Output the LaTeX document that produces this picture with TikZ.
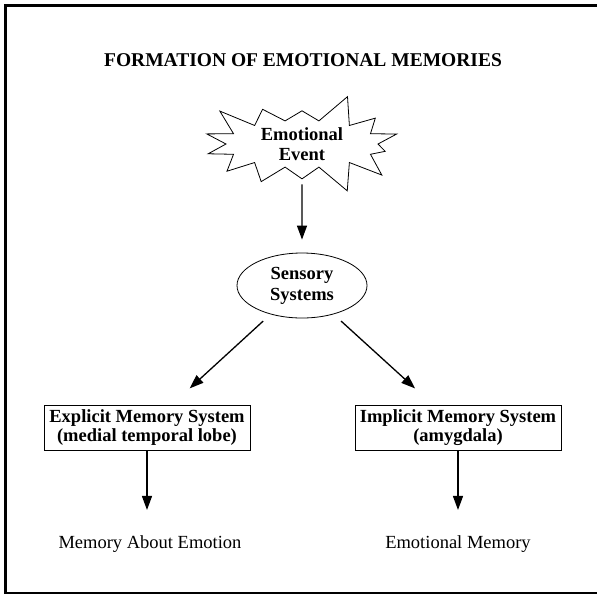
\documentclass[tikz,border=0pt]{standalone}
\usepackage{fontspec}
\setmainfont{Liberation Serif}
\usetikzlibrary{shapes,arrows.meta,positioning}
\tikzset{%
	burstnode/.style={starburst, draw, thick, fill=white, starburst points=14, starburst point height=30pt, random starburst=3, minimum width=212pt, minimum height=88pt, inner sep=0pt, align=center, font=\fontsize{18.5}{20.5}\selectfont\bfseries},
	ovalnode/.style={ellipse, draw, thick, minimum width=130pt, minimum height=65pt, inner sep=0pt, align=center, font=\fontsize{18.5}{21}\selectfont\bfseries},
	boxnode/.style={rectangle, draw, thick, minimum width=206pt, minimum height=45pt, inner sep=0pt, align=center, font=\fontsize{18.5}{18.5}\selectfont\bfseries},
	plainnode/.style={inner sep=3pt, font=\fontsize{18.5}{21}\selectfont},
	pt/.style={line width=1.3pt, -{Triangle[length=14pt,width=10pt]}}
}

\begin{document}
\begin{tikzpicture}[x=1pt, y=-1pt]
			\useasboundingbox (0,0) rectangle (597,595);
			% frame
			\draw[line width=1.2pt] (600,593) -- (5.5,593);
			\draw[line width=2.5pt] (5.5,593.6) -- (5.5,5.5) -- (600,5.5);

			\node[plainnode, anchor=base, font=\fontsize{19.5}{21}\selectfont\bfseries] (title) at (303,66) {FORMATION OF EMOTIONAL MEMORIES};
			\node[burstnode] (event) at (302,144) {Emotional\\Event};
			\node[ovalnode] (sensory) at (302,285.5) {Sensory\\Systems};
			\node[boxnode] (explicit) at (147,427.5) {Explicit Memory System\\(medial temporal lobe)};
			\node[boxnode] (implicit) at (458,427.5) {Implicit Memory System\\(amygdala)};
			\node[plainnode, anchor=base] (about) at (150,548) {Memory About Emotion};
			\node[plainnode, anchor=base] (emomem) at (458,548) {Emotional Memory};

			\draw[pt, shorten <=5pt, shorten >=13pt] (event.south) -- (sensory.north);
			\draw[pt, shorten <=10pt, shorten >=24pt] (sensory) -- (explicit);
			\draw[pt, shorten <=10pt, shorten >=24pt] (sensory) -- (implicit);
			\draw[pt, shorten >=22pt] (explicit.south) -- (explicit.south |- about.north);
			\draw[pt, shorten >=22pt] (implicit.south) -- (implicit.south |- emomem.north);
		\end{tikzpicture}
\end{document}
